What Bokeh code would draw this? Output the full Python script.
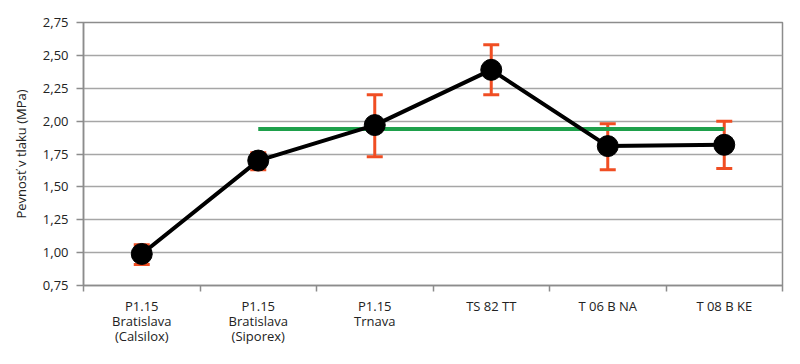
import numpy as np
from bokeh.plotting import figure
from bokeh.models import ColumnDataSource, Whisker, FixedTicker, TeeHead
from bokeh.embed import file_html
from bokeh.resources import INLINE

categories = ["P1.15\nBratislava\n(Calsilox)", "P1.15\nBratislava\n(Siporex)", "P1.15\nTrnava",
              "TS 82 TT", "T 06 B NA", "T 08 B KE"]
values = [0.99, 1.70, 1.97, 2.39, 1.81, 1.82]
err_low = [0.91, 1.63, 1.73, 2.20, 1.63, 1.64]
err_high = [1.06, 1.76, 2.20, 2.58, 1.98, 2.00]
mean_level = 1.94
mean_from = 1  # index of first category covered by the green line
y_ticks = [0.75, 1.00, 1.25, 1.50, 1.75, 2.00, 2.25, 2.50, 2.75]

xs = np.arange(len(categories)) + 0.5
src = ColumnDataSource(dict(x=xs, y=values, lo=err_low, hi=err_high))

FONT = "Open Sans"
p = figure(width=784, height=348, output_backend="svg", toolbar_location=None,
           x_range=(0, len(categories)), y_range=(0.75, 2.75),
           min_border_left=83, min_border_right=2, min_border_top=22, min_border_bottom=63)
p.background_fill_color = "white"
p.border_fill_color = "white"
p.outline_line_color = "#8c8c8c"
p.outline_line_width = 1.5

p.xaxis.ticker = FixedTicker(ticks=list(xs), minor_ticks=list(range(len(categories) + 1)))
p.xaxis.major_label_overrides = {float(x): c for x, c in zip(xs, categories)}
p.xaxis.major_tick_line_color = None
p.xaxis.minor_tick_out = 6
p.xaxis.minor_tick_in = 0
p.xaxis.minor_tick_line_color = "#8c8c8c"
p.xaxis.minor_tick_line_width = 1.5
p.xaxis.axis_line_color = "#8c8c8c"
p.xaxis.axis_line_width = 1.5
p.xaxis.major_label_standoff = 5
p.xaxis.major_label_text_font = FONT
p.xaxis.major_label_text_font_size = "13px"
p.xaxis.major_label_text_line_height = 0.85
p.xaxis.major_label_text_color = "#222222"
p.xgrid.grid_line_color = None

p.yaxis.ticker = FixedTicker(ticks=y_ticks)
p.yaxis.major_label_overrides = {t: f"{t:.2f}".replace(".", ",") for t in y_ticks}
p.yaxis.major_tick_out = 7
p.yaxis.major_tick_in = 0
p.yaxis.major_tick_line_color = "#8c8c8c"
p.yaxis.major_tick_line_width = 1.5
p.yaxis.minor_tick_line_color = None
p.yaxis.axis_line_color = "#8c8c8c"
p.yaxis.axis_line_width = 1.5
p.yaxis.major_label_text_font = FONT
p.yaxis.major_label_text_font_size = "13px"
p.yaxis.major_label_text_color = "#222222"
p.yaxis.major_label_standoff = 8
p.yaxis.axis_label = "Pevnosť v tlaku (MPa)"
p.yaxis.axis_label_text_font = FONT
p.yaxis.axis_label_text_font_style = "normal"
p.yaxis.axis_label_text_font_size = "13px"
p.yaxis.axis_label_text_color = "#222222"
p.yaxis.axis_label_standoff = 10
p.ygrid.grid_line_color = "#a6a6a6"
p.ygrid.grid_line_width = 1.5

# green reference line
p.line(xs[mean_from:], [mean_level] * (len(xs) - mean_from), line_color="#1ea04b", line_width=4)

# error bars
red = "#f04e23"
w = Whisker(source=src, base="x", upper="hi", lower="lo", line_color=red, line_width=3,
            upper_head=TeeHead(size=16, line_color=red, line_width=3),
            lower_head=TeeHead(size=16, line_color=red, line_width=3))
p.add_layout(w)

p.line("x", "y", source=src, line_color="black", line_width=4)
p.scatter("x", "y", source=src, size=21, fill_color="black", line_color="black")

open("out.html", "w").write(file_html(p, INLINE))
